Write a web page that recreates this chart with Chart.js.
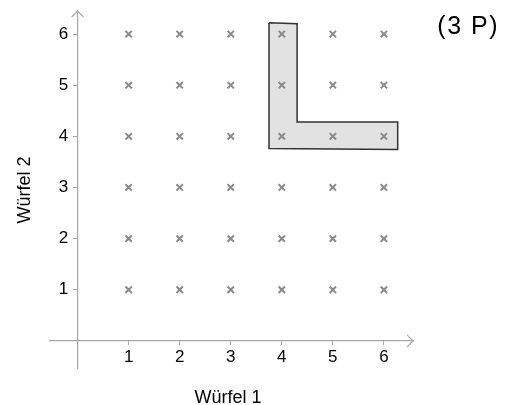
<!DOCTYPE html>
<html>
<head>
<meta charset="utf-8">
<script src="https://cdn.jsdelivr.net/npm/chart.js@4"></script>
<style>
  html, body { margin: 0; padding: 0; background: #fff; }
  #wrap { width: 508px; height: 405px; }
</style>
</head>
<body>
<div id="wrap"><canvas id="dice"></canvas></div>
<script>
// Würfel 1 / Würfel 2 outcomes
const wuerfel1 = [1, 2, 3, 4, 5, 6];
const wuerfel2 = [1, 2, 3, 4, 5, 6];
const xTicks = [1, 2, 3, 4, 5, 6];
const yTicks = [1, 2, 3, 4, 5, 6];

// L-shaped marking around the outcomes (4|4..6) and (5|4), (6|4)
const shapeX = [3.75, 4.30, 4.30, 6.27, 6.27, 3.75, 3.75];
const shapeY = [6.22, 6.20, 4.28, 4.28, 3.74, 3.76, 6.22];

const axisColor = '#a8a8a8';
const font = 'Liberation Sans, Arial, sans-serif';

// every combination of the two dice
const gridPoints = [];
wuerfel2.forEach(y => {
    wuerfel1.forEach(x => gridPoints.push({ x: x, y: y }));
});

const shapePoints = shapeX.map((x, i) => ({ x: x, y: shapeY[i] }));

// axes sit inside the plot, so they should not push the chart area around
function noScalePadding(scale) {
    scale.paddingTop = 0;
    scale.paddingBottom = 0;
    scale.paddingLeft = 0;
    scale.paddingRight = 0;
}

// arrows, axis titles and the points label
const extras = {
    id: 'extras',
    afterDraw(chart) {
        const ctx = chart.ctx;
        const xs = chart.scales.x;
        const ys = chart.scales.y;
        const x0 = xs.getPixelForValue(0);
        const y0 = ys.getPixelForValue(0);
        const right = chart.chartArea.right;
        const top = chart.chartArea.top;

        ctx.save();
        ctx.strokeStyle = axisColor;
        ctx.lineWidth = 1.2;
        ctx.beginPath();
        ctx.moveTo(right - 6, y0 - 6);
        ctx.lineTo(right, y0);
        ctx.lineTo(right - 6, y0 + 6);
        ctx.moveTo(x0 - 6, top + 6);
        ctx.lineTo(x0, top);
        ctx.lineTo(x0 + 6, top + 6);
        ctx.stroke();

        ctx.fillStyle = '#000';
        ctx.font = '18px ' + font;
        ctx.textAlign = 'center';
        ctx.textBaseline = 'alphabetic';
        ctx.fillText('Würfel 1', 228, 403);

        ctx.save();
        ctx.translate(30, 190);
        ctx.rotate(-Math.PI / 2);
        ctx.fillText('Würfel 2', 0, 0);
        ctx.restore();

        ctx.font = '25px ' + font;
        ctx.textAlign = 'right';
        ctx.letterSpacing = '1.5px';
        ctx.fillText('(3 P)', 499, 34);
        ctx.restore();
    }
};

const ctx = document.getElementById('dice').getContext('2d');
const chart = new Chart(ctx, {
    type: 'scatter',
    data: {
        datasets: [{
            label: 'Ergebnisse',
            data: gridPoints,
            pointStyle: 'crossRot',
            pointRadius: 4.5,
            pointBorderWidth: 2,
            borderColor: '#8a8a8a',
            backgroundColor: '#8a8a8a',
            order: 0
        }, {
            type: 'line',
            label: 'Markierung',
            data: shapePoints,
            showLine: true,
            borderColor: '#333',
            borderWidth: 1.5,
            backgroundColor: '#e2e2e2',
            fill: 'shape',
            tension: 0,
            pointRadius: 0,
            order: 1
        }]
    },
    options: {
        responsive: true,
        maintainAspectRatio: false,
        animation: false,
        devicePixelRatio: 1,
        layout: {
            padding: { left: 50, right: 95, top: 11, bottom: 37 }
        },
        plugins: {
            legend: { display: false },
            tooltip: { enabled: false }
        },
        scales: {
            x: {
                type: 'linear',
                min: -0.54,
                max: 6.57,
                position: { y: 0 },
                afterBuildTicks: scale => { scale.ticks = xTicks.map(v => ({ value: v })); },
                afterFit: noScalePadding,
                grid: { drawOnChartArea: false, drawTicks: true, tickLength: 4, color: axisColor },
                border: { color: axisColor, width: 1.2 },
                ticks: { color: '#000', font: { family: font, size: 17 }, padding: 2, maxRotation: 0 }
            },
            y: {
                type: 'linear',
                min: -0.53,
                max: 6.45,
                position: { x: 0 },
                afterBuildTicks: scale => { scale.ticks = yTicks.map(v => ({ value: v })); },
                afterFit: noScalePadding,
                grid: { drawOnChartArea: false, drawTicks: true, tickLength: 4, color: axisColor },
                border: { color: axisColor, width: 1.2 },
                // labels are right-aligned on the axis line; two spaces keep them clear of it
                ticks: { color: '#000', font: { family: font, size: 17 }, callback: v => v + '  ' }
            }
        }
    },
    plugins: [extras]
});
</script>
</body>
</html>
